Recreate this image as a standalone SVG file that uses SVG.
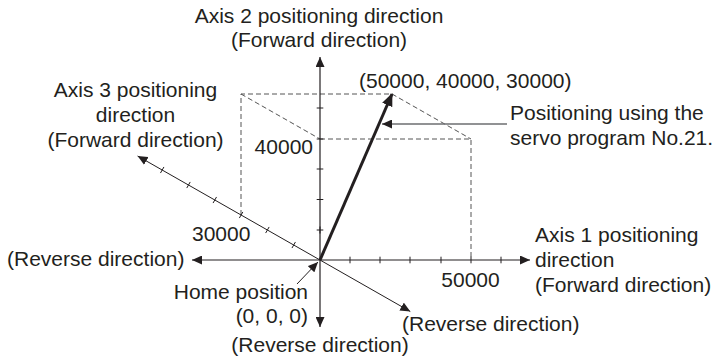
<svg xmlns="http://www.w3.org/2000/svg" width="717" height="363" viewBox="0 0 717 363">
<style>
text{font-family:"Liberation Sans",Arial,sans-serif;font-size:21px;fill:#231f20}
.ax{stroke:#231f20;stroke-width:1.2;fill:none}
.ax3{stroke:#231f20;stroke-width:1;fill:none}
.tk{stroke:#231f20;stroke-width:1;fill:none}
.dash{stroke:#555;stroke-width:1;fill:none;stroke-dasharray:5 3}
.m{text-anchor:middle}
.e{text-anchor:end}
</style>
<defs>
<marker id="ah" viewBox="0 0 10 9" refX="10" refY="4.5" markerWidth="10" markerHeight="9" markerUnits="userSpaceOnUse" orient="auto-start-reverse">
<path d="M0,0 L10,4.5 L0,9 z" fill="#231f20"/>
</marker>
<marker id="ahb" viewBox="0 0 13 11" refX="12" refY="5.5" markerWidth="13" markerHeight="11" markerUnits="userSpaceOnUse" orient="auto">
<path d="M0,0 L13,5.5 L0,11 z" fill="#231f20"/>
</marker>
</defs>
<g id="dashed-box">
<path class="dash" d="M241,215 V94 H392 M241,94 L320,139 M392,94 L471,139 M320,139 H471 V260"/>
</g>
<g id="connectors">
<line id="axis2" class="ax" x1="320" y1="327" x2="320" y2="57" marker-start="url(#ah)" marker-end="url(#ah)"/>
<line id="axis1" class="ax" x1="192" y1="260" x2="530" y2="260" marker-start="url(#ah)" marker-end="url(#ah)"/>
<line id="axis3" class="ax3" x1="137.6" y1="156" x2="410.3" y2="311.5" marker-start="url(#ah)" marker-end="url(#ah)"/>
<path id="ticks" class="tk" d="M320,226.5 v7 M316.7,230 h6.6 M316.7,199.5 h6.6 M316.7,169 h6.6 M316.7,139 h6.6 M316.7,108 h6.6 M350,256.7 v6.6 M380,256.7 v6.6 M410,256.7 v6.6 M441,256.7 v6.6 M471,256.7 v6.6 M501,256.7 v6.6 M291.97,248.04 L295.43,241.96 M265.67,233.04 L269.13,226.96 M239.37,218.04 L242.83,211.96 M213.07,203.04 L216.53,196.96 M186.77,188.04 L190.23,181.96 M160.47,173.04 L163.93,166.96"/>
<line id="move" x1="320" y1="260" x2="392" y2="94" stroke="#231f20" stroke-width="3" marker-end="url(#ahb)"/>
<line id="pointer" x1="507" y1="124" x2="382" y2="124" stroke="#6d6e71" stroke-width="1.3" marker-end="url(#ah)"/>
<line id="home-pointer" x1="297" y1="284" x2="318" y2="262" stroke="#231f20" stroke-width="1" marker-end="url(#ah)"/>
</g>
<g id="axis2-label"><text class="m" x="319" y="23">Axis 2 positioning direction</text><text class="m" x="319" y="47">(Forward direction)</text></g>
<g id="axis3-label"><text class="m" x="135.5" y="97">Axis 3 positioning</text><text class="m" x="135.5" y="122">direction</text><text class="m" x="135.5" y="147">(Forward direction)</text></g>
<g id="target-label"><text x="359" y="88">(50000, 40000, 30000)</text></g>
<g id="program-label"><text x="510" y="120">Positioning using the</text><text x="510" y="145">servo program No.21.</text></g>
<g id="v40000"><text class="e" x="313" y="154">40000</text></g>
<g id="v30000"><text x="192" y="241">30000</text></g>
<g id="v50000"><text class="m" x="470.5" y="287">50000</text></g>
<g id="axis1-reverse"><text x="7" y="266">(Reverse direction)</text></g>
<g id="axis1-label"><text x="535" y="242">Axis 1 positioning</text><text x="535" y="267">direction</text><text x="535" y="292">(Forward direction)</text></g>
<g id="home"><text class="e" x="308" y="299">Home position</text><text class="e" x="308" y="323">(0, 0, 0)</text></g>
<g id="axis3-reverse"><text x="402" y="331">(Reverse direction)</text></g>
<g id="axis2-reverse"><text class="m" x="320" y="352">(Reverse direction)</text></g>
</svg>
